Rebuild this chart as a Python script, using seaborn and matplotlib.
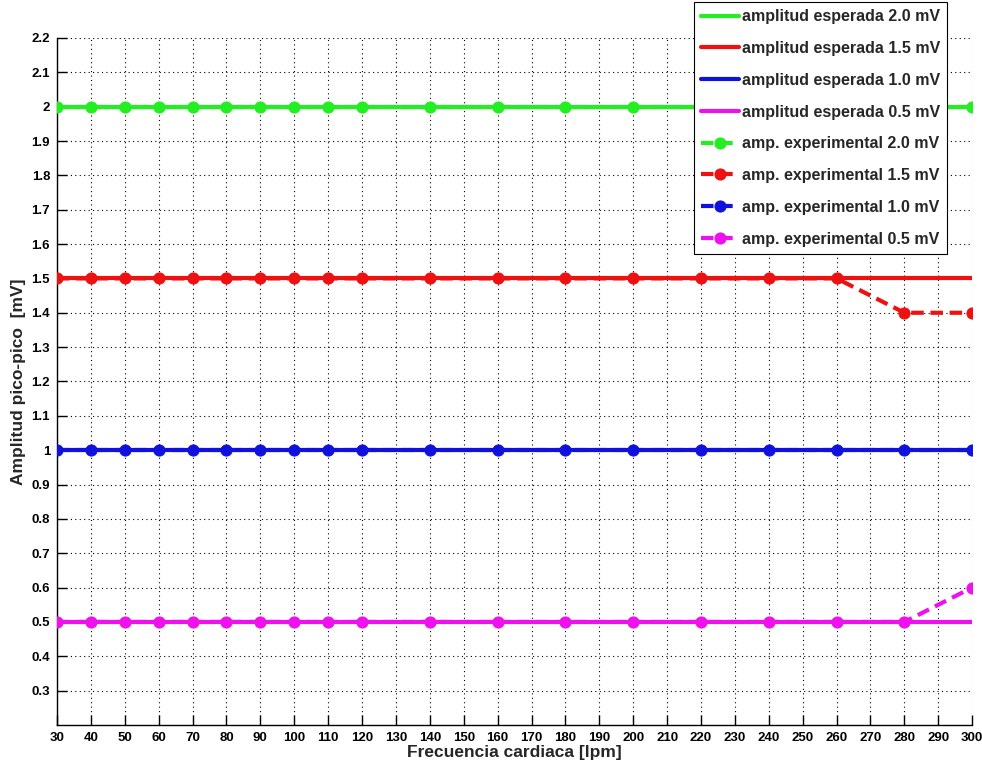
import matplotlib
matplotlib.use("Agg")
import matplotlib.pyplot as plt
import seaborn as sns
import pandas as pd

freq = [30, 40, 50, 60, 70, 80, 90, 100, 110, 120, 140, 160, 180, 200, 220, 240, 260, 280, 300]
esperada_20 = [2.0] * 19
esperada_15 = [1.5] * 19
esperada_10 = [1.0] * 19
esperada_05 = [0.5] * 19
exp_20 = [2.0] * 19
exp_15 = [1.5] * 17 + [1.4, 1.4]
exp_10 = [1.0] * 19
exp_05 = [0.5] * 18 + [0.6]

labels_esp = ["amplitud esperada 2.0 mV", "amplitud esperada 1.5 mV",
              "amplitud esperada 1.0 mV", "amplitud esperada 0.5 mV"]
labels_exp = ["amp. experimental 2.0 mV", "amp. experimental 1.5 mV",
              "amp. experimental 1.0 mV", "amp. experimental 0.5 mV"]
colors = ["#22ee22", "#ee1111", "#1111dd", "#ee11ee"]

sns.set_theme(style="white")
plt.rcParams['font.family'] = ['Liberation Sans', 'DejaVu Sans']

fig = plt.figure(figsize=(9.82, 7.67), dpi=100)
ax = fig.add_axes([0.058, 0.0548, 0.932, 0.8957])

for lab, vals, c in zip(labels_esp, [esperada_20, esperada_15, esperada_10, esperada_05], colors):
    df = pd.DataFrame({"x": freq, "y": vals})
    sns.lineplot(data=df, x="x", y="y", ax=ax, color=c, linewidth=3, label=lab, zorder=3)
for lab, vals, c in zip(labels_exp, [exp_20, exp_15, exp_10, exp_05], colors):
    df = pd.DataFrame({"x": freq, "y": vals})
    sns.lineplot(data=df, x="x", y="y", ax=ax, color=c, linewidth=3, linestyle=(0, (3, 1.6)),
                 marker="o", markersize=8, markeredgecolor=c, label=lab, zorder=4)

ax.set_xlim(30, 300)
ax.set_ylim(0.2, 2.2)
ax.set_xticks(list(range(30, 301, 10)))
yt = [round(0.3 + 0.1 * i, 1) for i in range(20)]
ax.set_yticks(yt)
ax.set_yticklabels([("%g" % v) for v in yt])
ax.tick_params(direction="in", length=7, width=1, colors="black", labelsize=9.5,
               top=False, right=False, bottom=True, left=True, pad=5)
for lbl in ax.get_xticklabels() + ax.get_yticklabels():
    lbl.set_fontweight("bold")
ax.grid(True, linestyle=(0, (1, 3)), color="black", linewidth=0.8)
for s in ["top", "right"]:
    ax.spines[s].set_visible(False)
for s in ["left", "bottom"]:
    ax.spines[s].set_color("black")
    ax.spines[s].set_linewidth(1)

ax.set_xlabel("Frecuencia cardiaca [lpm]", fontsize=12.5, fontweight="bold", labelpad=1)
ax.set_ylabel("Amplitud pico-pico  [mV]", fontsize=12.5, fontweight="bold", labelpad=4)

leg = ax.legend(loc="upper right", bbox_to_anchor=(947 / 982, 1 - 2 / 767),
                bbox_transform=fig.transFigure, frameon=True, fancybox=False,
                prop={"family": ["Liberation Sans", "DejaVu Sans"],
                      "weight": "bold", "size": 11.5},
                handlelength=2.4, handletextpad=0.15, borderpad=0.45, labelspacing=1.05,
                borderaxespad=0)
leg.get_frame().set_edgecolor("black")
leg.get_frame().set_linewidth(0.8)
leg.get_frame().set_alpha(1)
leg.set_zorder(10)

fig.savefig("out.png", dpi=100)
